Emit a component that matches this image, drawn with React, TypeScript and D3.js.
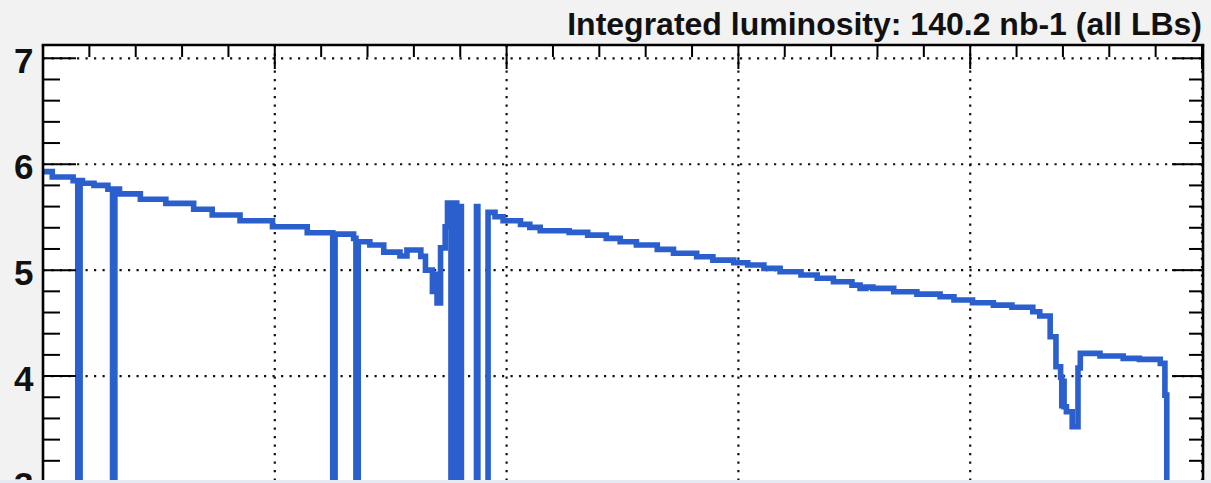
import React from "react";
import * as d3 from "d3";

// Per-luminosity-block instantaneous luminosity (step histogram).
// Each value holds from its lumi-block start until the next start.
const lbStart = [
  0, 4, 13, 15, 16, 17, 22, 28, 30, 31, 33, 42, 53, 65, 73, 85, 99, 114, 125, 126,
  134, 135, 136, 141, 147, 154, 157, 163, 165, 168, 169, 170, 171.5, 173.5, 174.5, 176,
  177.5, 178.5, 179.5, 180.5, 187, 187.6, 192, 195, 198.5, 206, 210, 214.5, 227, 235,
  243, 249, 256, 265, 272, 282, 289, 298, 304, 311, 318, 327, 334, 341, 349, 352.5,
  355, 358, 367, 377, 387, 393, 401, 410, 418, 427, 430, 434.5, 437, 439, 439.5, 440,
  440.5, 441.5, 444, 446.5, 447.5, 456, 466, 473, 482, 484, 484.8, 500,
];
const lumiValue = [
  5.93, 5.88, 5.845, 0, 5.845, 5.82, 5.8, 5.765, 0, 5.765, 5.72, 5.67, 5.63, 5.575, 5.52, 5.467, 5.41, 5.353, 0, 5.34,
  5.3, 0, 5.268, 5.237, 5.17, 5.133, 5.19, 5.13, 5.0, 4.8, 4.96, 4.69, 5.21, 5.41, 5.634, 0,
  5.634, 0, 5.6, 0, 5.6, 0, 5.545, 5.504, 5.466, 5.432, 5.404, 5.372, 5.357, 5.331,
  5.3, 5.268, 5.237, 5.196, 5.159, 5.127, 5.095, 5.07, 5.048, 5.017, 4.985, 4.954, 4.923, 4.89, 4.859, 4.828,
  4.84, 4.828, 4.796, 4.774, 4.749, 4.718, 4.692, 4.67, 4.65, 4.607, 4.567, 4.371, 4.088, 3.99, 3.72, 3.95,
  3.71, 3.663, 3.521, 4.076, 4.214, 4.189, 4.167, 4.158, 4.12, 3.82, 0, 0,
];

const yTickValues = [3, 4, 5, 6, 7];
const yTickLabels = ["3", "4", "5", "6", "7"];
const xMajorTicks = [0, 100, 200, 300, 400, 500];
const xGridValues = [100, 200, 300, 400, 500];
const titleText = "Integrated luminosity: 140.2 nb-1 (all LBs)";

const W = 1211;
const H = 483;
const frame = { left: 43, right: 1203, top: 45 };

export default function App() {
  const x = d3.scaleLinear().domain([0, 500]).range([43, 1202]);
  const y = d3.scaleLinear().domain([3, 7]).range([482, 58.3]);

  const points: [number, number][] = lbStart.map((lb, i) => [lb, lumiValue[i]]);
  const line = d3
    .line<[number, number]>()
    .x((d) => x(d[0]))
    .y((d) => y(d[1]))
    .curve(d3.curveStepAfter);

  const yMinor = d3.range(30, 71, 2).map((v) => v / 10).filter((v) => !yTickValues.includes(v));
  const xMinor = d3.range(0, 501, 20).filter((v) => v % 100 !== 0);

  const dotted = { stroke: "#111", strokeWidth: 2.2, strokeDasharray: "2.2 6.3" };
  const font = "'Liberation Sans', Arial, Helvetica, sans-serif";

  return (
    <svg
      width={W}
      height={H}
      viewBox={`0 0 ${W} ${H}`}
      style={{ position: "absolute", left: 0, top: 0, display: "block" }}
    >
      <defs>
        <clipPath id="plotClip">
          <rect x={0} y={frame.top} width={W} height={H - frame.top} />
        </clipPath>
      </defs>
      <rect x={0} y={0} width={W} height={H} fill="#f2f2f2" />
      <rect x={frame.left} y={frame.top} width={frame.right - frame.left} height={H - frame.top} fill="#fff" />

      {/* grid */}
      {yTickValues.map((v) => (
        <line key={`gy${v}`} x1={frame.left} x2={frame.right} y1={y(v)} y2={y(v)} {...dotted} />
      ))}
      {xGridValues.map((v) => (
        <line key={`gx${v}`} x1={x(v)} x2={x(v)} y1={frame.top} y2={H} {...dotted} />
      ))}

      {/* luminosity histogram */}
      <path
        d={line(points) || ""}
        fill="none"
        stroke="#2a5fcd"
        strokeWidth={5.6}
        strokeLinejoin="miter"
        clipPath="url(#plotClip)"
      />

      {/* frame */}
      <line x1={frame.left} x2={frame.left} y1={frame.top} y2={H} stroke="#000" strokeWidth={2.6} />
      <line x1={frame.right} x2={frame.right} y1={frame.top} y2={H} stroke="#000" strokeWidth={2.6} />
      <line x1={frame.left - 1.3} x2={frame.right + 1.3} y1={frame.top} y2={frame.top} stroke="#000" strokeWidth={2.6} />

      {/* left / right axis ticks */}
      {yTickValues.map((v) => (
        <g key={`yt${v}`}>
          <line x1={frame.left} x2={frame.left + 33} y1={y(v)} y2={y(v)} stroke="#000" strokeWidth={2} />
          <line x1={frame.right - 31} x2={frame.right} y1={y(v)} y2={y(v)} stroke="#000" strokeWidth={2} />
        </g>
      ))}
      {yMinor.map((v) => (
        <g key={`ym${v}`}>
          <line x1={frame.left} x2={frame.left + 17} y1={y(v)} y2={y(v)} stroke="#000" strokeWidth={2} />
          <line x1={frame.right - 14} x2={frame.right} y1={y(v)} y2={y(v)} stroke="#000" strokeWidth={2} />
        </g>
      ))}

      {/* top axis ticks */}
      {xMajorTicks.map((v) => (
        <line key={`xt${v}`} x1={x(v)} x2={x(v)} y1={frame.top} y2={frame.top + 24} stroke="#000" strokeWidth={2} />
      ))}
      {xMinor.map((v) => (
        <line key={`xm${v}`} x1={x(v)} x2={x(v)} y1={frame.top} y2={frame.top + 12} stroke="#000" strokeWidth={2} />
      ))}

      {/* y labels */}
      {yTickValues.map((v, i) => (
        <text
          key={`yl${v}`}
          x={33.5}
          y={y(v) + 14.5}
          textAnchor="end"
          fontFamily={font}
          fontWeight="bold"
          fontSize={35}
          fill="#111"
        >
          {yTickLabels[i]}
        </text>
      ))}

      {/* title */}
      <text x={1202} y={35} textAnchor="end" fontFamily={font} fontWeight="bold" fontSize={32} fill="#111">
        {titleText}
      </text>

      <rect x={0} y={480} width={W} height={3} fill="#e6ebf2" />
    </svg>
  );
}
